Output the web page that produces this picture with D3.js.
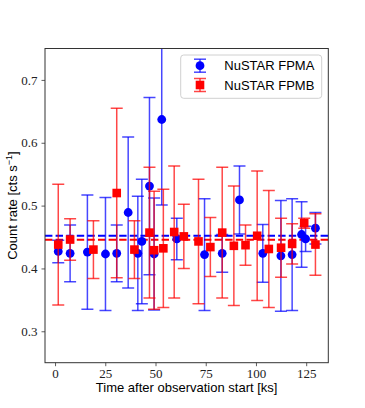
<!DOCTYPE html>
<html>
<head>
<meta charset="utf-8">
<script src="https://cdn.jsdelivr.net/npm/d3@7"></script>
<style>
  body { margin: 0; background: #fff; }
  svg { display: block; }
</style>
</head>
<body>
<div class="d3-content"></div>
<script>
// light curve data
const fpmaTime = [1.6, 7.5, 16.1, 25.1, 30.7, 36.4, 41.2, 43.2, 47.0, 49.3, 53.1, 60.6, 74.4, 83.2, 91.8, 103.4, 112.4, 118.0, 122.7, 124.7, 129.6];
const fpmaRate = [0.427, 0.424, 0.426, 0.423, 0.424, 0.489, 0.424, 0.443, 0.531, 0.423, 0.637, 0.447, 0.422, 0.424, 0.509, 0.424, 0.420, 0.422, 0.454, 0.447, 0.464];
const fpmaErr  = [0.018, 0.045, 0.091, 0.090, 0.045, 0.120, 0.091, 0.099, 0.141, 0.089, 0.136, 0.033, 0.089, 0.030, 0.054, 0.046, 0.088, 0.089, 0.052, 0.020, 0.025];

const fpmbTime = [1.6, 7.5, 19.1, 30.7, 39.5, 47.0, 49.3, 53.9, 59.3, 64.1, 71.4, 77.3, 83.2, 89.0, 94.8, 100.6, 106.4, 112.5, 118.0, 124.0, 129.6];
const fpmbRate = [0.438, 0.446, 0.430, 0.520, 0.430, 0.457, 0.429, 0.432, 0.458, 0.451, 0.443, 0.434, 0.457, 0.436, 0.437, 0.452, 0.431, 0.433, 0.439, 0.472, 0.438];
const fpmbErr  = [0.096, 0.033, 0.046, 0.135, 0.046, 0.104, 0.094, 0.094, 0.105, 0.051, 0.099, 0.047, 0.104, 0.095, 0.032, 0.103, 0.093, 0.047, 0.032, 0.008, 0.049];

const meanRates = [0.452, 0.4455];
const xTicks = [0, 25, 50, 75, 100, 125];
const yTicks = [0.3, 0.4, 0.5, 0.6, 0.7];
const seriesNames = ['NuSTAR FPMA', 'NuSTAR FPMB'];

/* dimensions */
const width = 365;
const height = 408;
const plot = { left: 45, right: 328.3, top: 48.5, bottom: 362.7 };

const blue = '#0000ff';
const red = '#ff0000';
const sans = '"Liberation Sans", Arial, sans-serif';
const serif = '"Liberation Serif", "Times New Roman", serif';

const xScale = d3.scaleLinear().domain([-5, 136]).range([plot.left, plot.right]);
const yScale = d3.scaleLinear().domain([0.25, 0.75]).range([plot.bottom, plot.top]);

const svg = d3.select('.d3-content')
  .append('svg')
    .attr('width', width)
    .attr('height', height);

svg.append('defs')
  .append('clipPath')
    .attr('id', 'plot-clip')
  .append('rect')
    .attr('x', plot.left)
    .attr('y', plot.top)
    .attr('width', plot.right - plot.left)
    .attr('height', plot.bottom - plot.top);

const inner = svg.append('g').attr('clip-path', 'url(#plot-clip)');

// mean lines
const meanColors = [blue, red];
inner.selectAll('line.mean')
  .data(meanRates)
  .join('line')
    .attr('class', 'mean')
    .attr('x1', plot.left)
    .attr('x2', plot.right)
    .attr('y1', d => yScale(d))
    .attr('y2', d => yScale(d))
    .attr('stroke', (d, i) => meanColors[i])
    .attr('stroke-width', 2)
    .attr('stroke-dasharray', '7.4,3.2');

// errorbar series
const capHalf = 6;
const drawSeries = (time, rate, err, color, shape) => {
  const data = time.map((t, i) => ({ t, v: rate[i], e: err[i] }));
  const g = inner.append('g');
  const bars = g.selectAll('g')
    .data(data)
    .join('g')
      .attr('stroke', color)
      .attr('stroke-opacity', 0.72)
      .attr('stroke-width', 1.5);
  bars.append('line')
    .attr('x1', d => xScale(d.t))
    .attr('x2', d => xScale(d.t))
    .attr('y1', d => yScale(d.v - d.e))
    .attr('y2', d => yScale(d.v + d.e));
  [-1, 1].forEach(s => {
    bars.append('line')
      .attr('x1', d => xScale(d.t) - capHalf)
      .attr('x2', d => xScale(d.t) + capHalf)
      .attr('y1', d => yScale(d.v + s * d.e))
      .attr('y2', d => yScale(d.v + s * d.e));
  });
  if (shape === 'circle') {
    g.selectAll('circle')
      .data(data)
      .join('circle')
        .attr('cx', d => xScale(d.t))
        .attr('cy', d => yScale(d.v))
        .attr('r', 4.4)
        .attr('fill', color);
  } else {
    g.selectAll('rect')
      .data(data)
      .join('rect')
        .attr('x', d => xScale(d.t) - 4.3)
        .attr('y', d => yScale(d.v) - 4.3)
        .attr('width', 8.6)
        .attr('height', 8.6)
        .attr('fill', color);
  }
};

drawSeries(fpmaTime, fpmaRate, fpmaErr, blue, 'circle');
drawSeries(fpmbTime, fpmbRate, fpmbErr, red, 'square');

// frame
svg.append('rect')
  .attr('x', plot.left)
  .attr('y', plot.top)
  .attr('width', plot.right - plot.left)
  .attr('height', plot.bottom - plot.top)
  .attr('fill', 'none')
  .attr('stroke', '#333')
  .attr('stroke-width', 1);

// axes
const bottomAxis = d3.axisBottom(xScale)
  .tickValues(xTicks)
  .tickSize(3.5)
  .tickPadding(3)
  .tickFormat(d3.format('d'));
const xAxisG = svg.append('g')
  .attr('transform', `translate(0, ${plot.bottom})`)
  .call(bottomAxis);

const leftAxis = d3.axisLeft(yScale)
  .tickValues(yTicks)
  .tickSize(3.5)
  .tickPadding(4)
  .tickFormat(d3.format('.1f'));
const yAxisG = svg.append('g')
  .attr('transform', `translate(${plot.left}, 0)`)
  .call(leftAxis);

[xAxisG, yAxisG].forEach(a => {
  a.select('.domain').remove();
  a.selectAll('.tick line').attr('stroke', '#333').attr('stroke-width', 0.8);
  a.selectAll('.tick text')
    .attr('font-family', serif)
    .attr('font-size', 13)
    .attr('fill', '#222');
});

// axis labels
svg.append('text')
  .text('Time after observation start [ks]')
  .attr('x', (plot.left + plot.right) / 2)
  .attr('y', 392)
  .attr('text-anchor', 'middle')
  .attr('font-family', sans)
  .attr('font-size', 13)
  .attr('fill', '#000');

const yLabel = svg.append('text')
  .attr('transform', `translate(17, ${(plot.top + plot.bottom) / 2}) rotate(-90)`)
  .attr('text-anchor', 'middle')
  .attr('font-family', sans)
  .attr('font-size', 13)
  .attr('fill', '#000');
yLabel.append('tspan').text('Count rate [cts s');
yLabel.append('tspan').text('\u22121').attr('font-size', 9).attr('dy', -5);
yLabel.append('tspan').text(']').attr('dy', 5);

// legend
const legend = svg.append('g');
legend.append('rect')
  .attr('x', 180.7)
  .attr('y', 55)
  .attr('width', 141)
  .attr('height', 43.3)
  .attr('rx', 3)
  .attr('fill', '#fff')
  .attr('fill-opacity', 0.8)
  .attr('stroke', '#d0d0d0')
  .attr('stroke-width', 1);

const legendColors = [blue, red];
const legendRows = legend.selectAll('g.row')
  .data(seriesNames)
  .join('g')
    .attr('class', 'row')
    .attr('transform', (d, i) => `translate(200, ${65.7 + i * 19.3})`);
legendRows.each(function (name, i) {
  const row = d3.select(this);
  const c = legendColors[i];
  const bar = row.append('g')
    .attr('stroke', c)
    .attr('stroke-opacity', 0.72)
    .attr('stroke-width', 1.5);
  bar.append('line').attr('x1', 0).attr('x2', 0).attr('y1', -6.5).attr('y2', 6.5);
  bar.append('line').attr('x1', -capHalf).attr('x2', capHalf).attr('y1', -6.5).attr('y2', -6.5);
  bar.append('line').attr('x1', -capHalf).attr('x2', capHalf).attr('y1', 6.5).attr('y2', 6.5);
  if (i === 0) {
    row.append('circle').attr('r', 4.4).attr('fill', c);
  } else {
    row.append('rect').attr('x', -4.3).attr('y', -4.3).attr('width', 8.6).attr('height', 8.6).attr('fill', c);
  }
  row.append('text')
    .text(name)
    .attr('x', 24.3)
    .attr('y', 4.6)
    .attr('font-family', sans)
    .attr('font-size', 13)
    .attr('fill', '#000');
});
</script>
</body>
</html>
